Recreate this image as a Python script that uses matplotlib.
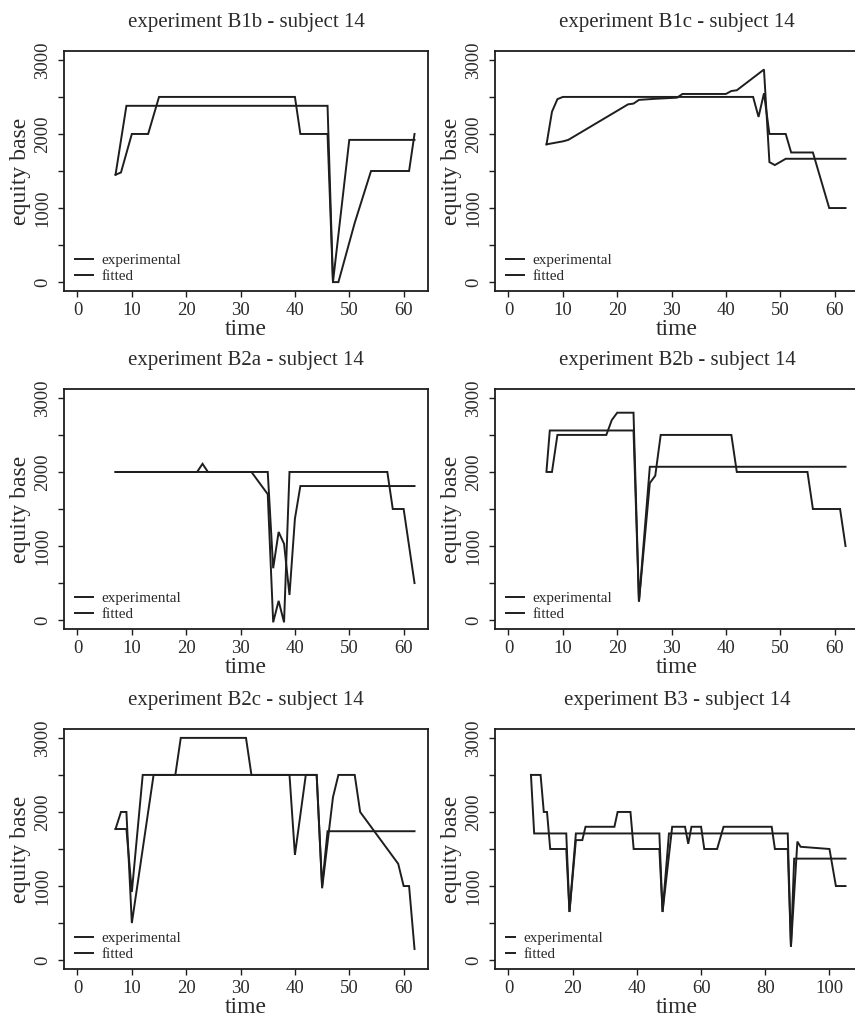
import matplotlib
matplotlib.use("Agg")
import matplotlib.pyplot as plt

# ---------------- data ----------------
titles = ["experiment B1b - subject 14", "experiment B1c - subject 14",
          "experiment B2a - subject 14", "experiment B2b - subject 14",
          "experiment B2c - subject 14", "experiment B3 - subject 14"]

b1b_exp_t = [7, 8, 10, 13, 15, 40, 41, 46, 47, 48, 51, 54, 61, 62]
b1b_exp_v = [1450, 1480, 2000, 2000, 2500, 2500, 2000, 2000, 0, 0, 800, 1500, 1500, 2000]
b1b_fit_t = [7, 9, 46, 47, 50, 62]
b1b_fit_v = [1450, 2380, 2380, 0, 1920, 1920]

b1c_exp_t = [7, 8, 9, 10, 45, 46, 47, 48, 51, 52, 56, 59, 62]
b1c_exp_v = [1860, 2300, 2470, 2500, 2500, 2230, 2550, 2000, 2000, 1750, 1750, 1000, 1000]
b1c_fit_t = [7, 10, 11, 22, 23, 24, 27, 31, 32, 40, 41, 42, 47, 48, 49, 51, 62]
b1c_fit_v = [1860, 1900, 1920, 2400, 2410, 2460, 2475, 2490, 2540, 2540, 2580, 2590, 2870,
             1620, 1580, 1665, 1665]

b2a_exp_t = [7, 22, 23, 24, 32, 35, 36, 37, 38, 39, 57, 58, 60, 62]
b2a_exp_v = [2000, 2000, 2110, 2000, 2000, 1700, -30, 260, -30, 2000, 2000, 1500, 1500, 500]
b2a_fit_t = [7, 35, 36, 37, 38, 39, 40, 41, 62]
b2a_fit_v = [2000, 2000, 700, 1190, 1030, 340, 1370, 1810, 1810]

b2b_exp_t = [7, 8, 9, 18, 19, 20, 23, 24, 26, 27, 28, 41, 42, 55, 56, 61, 62]
b2b_exp_v = [2000, 2000, 2500, 2500, 2700, 2800, 2800, 250, 1850, 1950, 2500, 2500, 2000,
             2000, 1500, 1500, 1000]
b2b_fit_t = [7, 7.6, 23, 24, 26, 62]
b2b_fit_v = [2020, 2560, 2560, 250, 2070, 2070]

b2c_exp_t = [7, 8, 9, 10, 14, 18, 19, 31, 32, 44, 45, 47, 48, 51, 52, 59, 60, 61, 62]
b2c_exp_v = [1770, 2000, 2000, 500, 2500, 2500, 3000, 3000, 2500, 2500, 970, 2200, 2500,
             2500, 2000, 1300, 1000, 1000, 150]
b2c_fit_t = [7, 9, 10, 12, 39, 40, 42, 44, 45, 46, 62]
b2c_fit_v = [1770, 1770, 920, 2500, 2500, 1420, 2500, 2500, 1000, 1740, 1740]

b3_exp_t = [7, 10, 11, 12, 13, 18, 19, 21, 23, 24, 33, 34, 38, 39, 47, 48, 51, 55, 56, 57,
            60, 61, 65, 67, 82, 83, 87, 88, 90, 91, 100, 102, 105]
b3_exp_v = [2500, 2500, 2000, 2000, 1500, 1500, 650, 1620, 1620, 1800, 1800, 2000, 2000,
            1500, 1500, 650, 1800, 1800, 1570, 1800, 1800, 1500, 1500, 1800, 1800, 1500,
            1500, 180, 1600, 1530, 1500, 1000, 1000]
b3_fit_t = [7, 8, 18, 19, 21, 47, 48, 50, 87, 88, 89, 105]
b3_fit_v = [2500, 1710, 1710, 650, 1710, 1710, 650, 1710, 1710, 180, 1370, 1370]

x_max = [62, 62, 62, 62, 62, 105]
x_ticks = [[0, 10, 20, 30, 40, 50, 60]] * 5 + [[0, 20, 40, 60, 80, 100]]
y_ticks = [0, 500, 1000, 1500, 2000, 2500, 3000]
y_ticklabels = ["0", "", "1000", "", "2000", "", "3000"]
legend_labels = ["experimental", "fitted"]

series = [(b1b_exp_t, b1b_exp_v, b1b_fit_t, b1b_fit_v),
          (b1c_exp_t, b1c_exp_v, b1c_fit_t, b1c_fit_v),
          (b2a_exp_t, b2a_exp_v, b2a_fit_t, b2a_fit_v),
          (b2b_exp_t, b2b_exp_v, b2b_fit_t, b2b_fit_v),
          (b2c_exp_t, b2c_exp_v, b2c_fit_t, b2c_fit_v),
          (b3_exp_t, b3_exp_v, b3_fit_t, b3_fit_v)]

# ---------------- layout ----------------
plt.rcParams["font.family"] = ["Liberation Serif", "DejaVu Serif"]
W, H = 855, 1016
fig = plt.figure(figsize=(W / 100, H / 100), dpi=100)
col_left = [64, 495]
row_top = [51, 389, 729]
aw, ah = 364, 240
ink = "#1e1e1e"
txt = "#2b2b2b"

for i, (et, ev, ft, fv) in enumerate(series):
    r, c = divmod(i, 2)
    left = col_left[c] / W
    bottom = 1 - (row_top[r] + ah) / H
    ax = fig.add_axes([left, bottom, aw / W, ah / H])
    l_exp, = ax.plot(et, ev, color=ink, lw=1.4, solid_joinstyle="miter")
    l_fit, = ax.plot(ft, fv, color=ink, lw=1.4, solid_joinstyle="miter")
    xm = x_max[i]
    ax.set_xlim(-0.04 * xm, xm * 1.04)
    ax.set_ylim(-120, 3120)
    ax.set_xticks(x_ticks[i])
    ax.set_xticklabels([str(v) for v in x_ticks[i]])
    ax.set_yticks(y_ticks)
    ax.set_yticklabels(y_ticklabels)
    ax.tick_params(axis="both", direction="out", length=4, width=1.0, color=ink,
                   labelsize=13.5, labelcolor=txt, pad=4)
    ax.tick_params(axis="y", labelrotation=90, pad=5)
    for lab in ax.get_yticklabels():
        lab.set_va("center")
    for sp in ax.spines.values():
        sp.set_linewidth(1.3)
        sp.set_color(ink)
    ax.set_title(titles[i], fontsize=15, color=txt, pad=17)
    ax.set_xlabel("time", fontsize=17, color=txt, va="baseline")
    ax.xaxis.set_label_coords(0.5, -(335 - 291) / ah)
    ax.set_ylabel("equity base", fontsize=17, color=txt)
    ax.yaxis.set_label_coords(-(64 - 31) / aw, 0.5)
    hl = 1.2 if xm < 100 else 0.6
    ax.legend([l_exp, l_fit], legend_labels, loc="lower left",
              bbox_to_anchor=(11 / aw, 8 / ah), frameon=False, fontsize=11,
              handlelength=hl, handletextpad=0.55, labelspacing=0.15,
              borderpad=0, borderaxespad=0, labelcolor=txt)

fig.savefig("out.png", dpi=100)
